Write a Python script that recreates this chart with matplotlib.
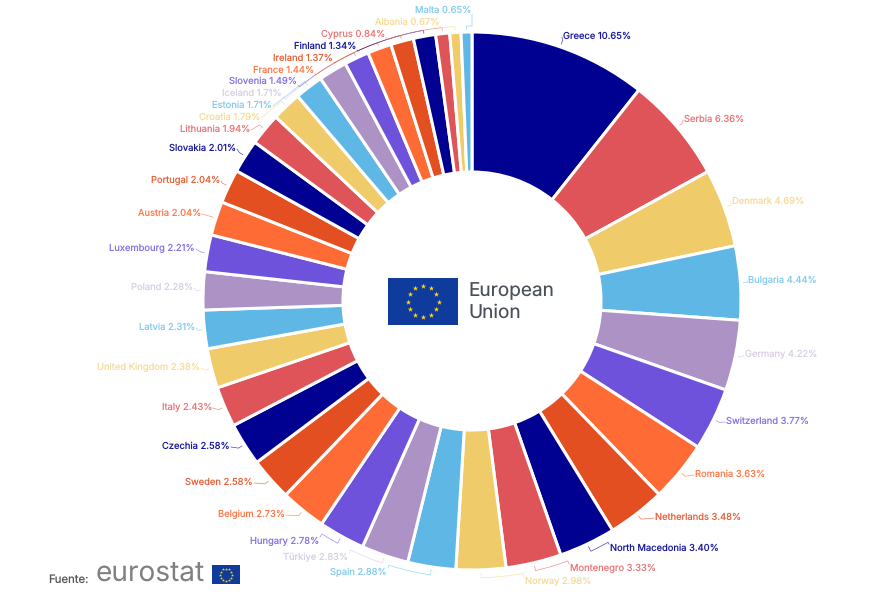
import numpy as np
import matplotlib
matplotlib.use("Agg")
import matplotlib.pyplot as plt

countries = ["Greece","Serbia","Denmark","Bulgaria","Germany","Switzerland","Romania","Netherlands",
             "North Macedonia","Montenegro","Norway","Spain","Türkiye","Hungary","Belgium","Sweden",
             "Czechia","Italy","United Kingdom","Latvia","Poland","Luxembourg","Austria","Portugal",
             "Slovakia","Lithuania","Croatia","Estonia","Iceland","Slovenia","France","Ireland",
             "Finland","Cyprus","Albania","Malta"]
values = [10.65,6.36,4.69,4.44,4.22,3.77,3.63,3.48,3.40,3.33,2.98,2.88,2.83,2.78,2.73,2.58,
          2.58,2.43,2.38,2.31,2.28,2.21,2.04,2.04,2.01,1.94,1.79,1.71,1.71,1.49,1.44,1.37,1.34,0.84,0.67,0.65]

palette = ["#000091","#DE5458","#F0CB69","#5FB7E6","#AD92C6","#6F52DB","#FF6B35","#E34F21"]
label_palette = ["#1A1A9C","#E8787C","#F6DC98","#86CCEE","#D9CFE6","#8A73E3","#FF7A4A","#E7623A"]

# label anchor: pixel position of the text end nearest the chart
label_x = [563,684,732,748,745,726,695,655,610,570,525,387,348,319,285,253,230,212,200,195,193,195,
           201,220,236,250,260,272,282,297,314,333,356,385,439,471]
label_y = [36,119,201,280,354,421,474,517,548,568,581,572,557,541,514,482,446,407,367,327,287,248,
           213,180,148,129,117,105,93,81,70,58,46,34,22,10]
label_side = ["l"]*11 + ["r"]*25
ARC_ROWS = [8, 9, 10, 11, 12, 13, 28, 29, 30, 31, 32, 33, 34, 35]   # leaders that follow the ring

W, H = 873, 600
CX, CY, R, R_IN = 472, 301, 269, 129

plt.rcParams["font.family"] = ["Inter", "DejaVu Sans"]
plt.rcParams["text.hinting"] = "no_hinting"
fig = plt.figure(figsize=(W/100, H/100), dpi=100)
ax = fig.add_axes([0, 0, 1, 1])

ax.pie(values, colors=[palette[i % 8] for i in range(len(values))], startangle=90, counterclock=False,
       center=(CX, H-CY), radius=R, frame=True,
       wedgeprops=dict(width=R-R_IN, edgecolor="white", linewidth=2.2))
ax.set_xlim(0, W); ax.set_ylim(0, H); ax.set_aspect("equal"); ax.axis("off")

cum = np.cumsum([0]+values)
total = cum[-1]
CY_D = H-CY
for i, (c, v) in enumerate(zip(countries, values)):
    col = label_palette[i % 8]
    lx, ly = label_x[i], H-label_y[i]
    ax.text(lx, ly, f"{c} {v:.2f}%", color=col, fontsize=6.75,
            ha="left" if label_side[i]=="l" else "right", va="center")
    mid = (cum[i]+v/2)/total*2*np.pi          # clockwise from top
    ex = lx-1 if label_side[i]=="l" else lx+1
    inner = (CX+(R+3)*np.sin(mid), CY_D+(R+3)*np.cos(mid))
    if i in ARC_ROWS:
        ey = ly + (4 if 8 <= i <= 13 else -4)
        a0 = np.arctan2(ex-CX, ey-CY_D)
        a0 = mid + (a0-mid+np.pi) % (2*np.pi) - np.pi   # shortest way round
        arc = np.linspace(a0, mid, 14)
        rc = R+8 if 8 <= i <= 13 else R+6
        xs = [ex]+list(CX+rc*np.sin(arc))+[inner[0]]
        ys = [ey]+list(CY_D+rc*np.cos(arc))+[inner[1]]
    else:
        outer = (CX+(R+7)*np.sin(mid), CY_D+(R+7)*np.cos(mid))
        xs = [ex, outer[0], inner[0]]
        ys = [ly-1, outer[1], inner[1]]
    ax.plot(xs, ys, color=col, lw=0.5, alpha=0.8, solid_joinstyle="round")

def flag(x0, y0, w, h, star_r, ms):
    ax.add_patch(plt.Rectangle((x0, H-y0-h), w, h, color="#0F3B9C", lw=0, zorder=5))
    t = np.arange(12)/12*2*np.pi
    ax.scatter(x0+w/2+star_r*np.sin(t), H-y0-h/2+star_r*np.cos(t), marker="*", s=ms,
               color="#FFD617", lw=0, zorder=6)

flag(388, 278, 70, 47, 15.5, 16)
ax.text(468.5, H-291, "European", color="#4A5059", fontsize=13.7, va="center", ha="left")
ax.text(468.5, H-312.5, "Union", color="#4A5059", fontsize=13.7, va="center", ha="left")

ax.text(48, H-580, "Fuente:", color="#555555", fontsize=8.2, va="center", ha="left")
ax.text(96, H-574, "eurostat", color="#808080", fontsize=20.2, va="center", ha="left")
flag(212, 565, 28, 19, 6, 5)

fig.savefig("out.png", dpi=100)
